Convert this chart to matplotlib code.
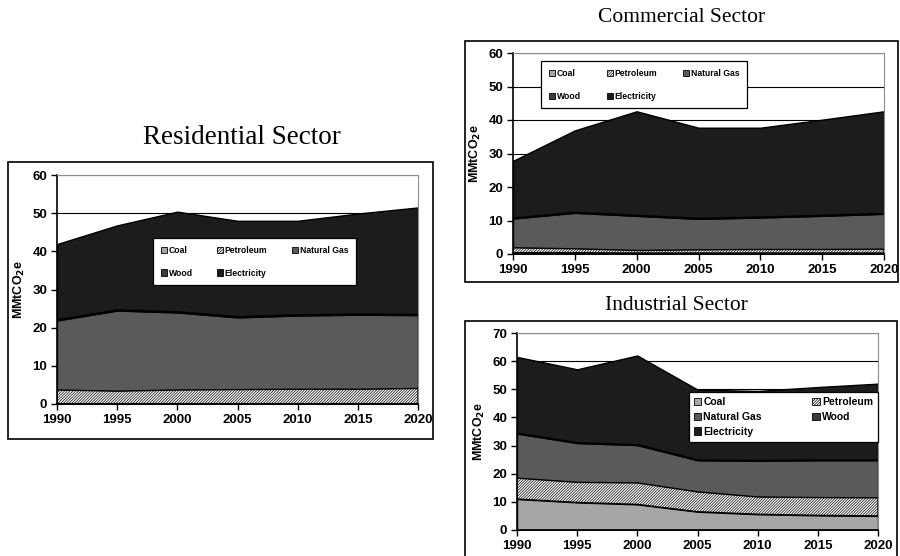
import matplotlib.pyplot as plt
from matplotlib.patches import Patch, Rectangle

years = [1990, 1995, 2000, 2005, 2010, 2015, 2020]
fuels = ['Coal', 'Petroleum', 'Natural Gas', 'Wood', 'Electricity']

# residential sector (MMtCO2e per fuel)
res_coal = [0.1, 0.1, 0.1, 0.1, 0.1, 0.1, 0.1]
res_petroleum = [3.7, 3.4, 3.7, 3.8, 3.9, 3.9, 4.1]
res_natgas = [18.1, 21.0, 20.2, 18.8, 19.2, 19.4, 19.1]
res_wood = [0.3, 0.3, 0.3, 0.3, 0.3, 0.3, 0.3]
res_electricity = [19.7, 22.0, 26.1, 25.0, 24.5, 26.2, 27.9]

# commercial sector
com_coal = [0.4, 0.4, 0.3, 0.3, 0.3, 0.3, 0.3]
com_petroleum = [1.6, 1.3, 0.9, 1.1, 1.2, 1.2, 1.3]
com_natgas = [8.6, 10.6, 10.2, 9.1, 9.4, 9.9, 10.4]
com_wood = [0.3, 0.3, 0.3, 0.3, 0.3, 0.3, 0.3]
com_electricity = [16.9, 24.3, 30.9, 26.9, 26.5, 28.4, 30.3]

# industrial sector
ind_coal = [11.0, 9.8, 9.1, 6.5, 5.6, 5.2, 5.0]
ind_petroleum = [7.6, 7.3, 7.8, 7.2, 6.3, 6.5, 6.6]
ind_natgas = [15.7, 13.8, 13.3, 11.1, 12.7, 13.1, 13.2]
ind_wood = [0.3, 0.3, 0.3, 0.3, 0.3, 0.3, 0.3]
ind_electricity = [26.9, 25.9, 31.5, 24.8, 24.5, 25.7, 26.9]

colors = ['#a6a6a6', 'white', '#5a5a5a', '#3c3c3c', '#1c1c1c']
hatches = [None, '////////////', None, None, None]

plt.rcParams['font.family'] = ['Liberation Sans', 'DejaVu Sans']
plt.rcParams['mathtext.default'] = 'bf'
plt.rcParams['hatch.linewidth'] = 0.5

fig = plt.figure(figsize=(9, 5.56), dpi=100)
W, H = 900, 556


def px_rect(x0, y0, x1, y1):
    # pixel box (top-left origin) -> figure fraction rect
    return [x0 / W, 1 - y1 / H, (x1 - x0) / W, (y1 - y0) / H]


def frame(x0, y0, x1, y1):
    r = px_rect(x0, y0, x1, y1)
    fig.patches.append(Rectangle((r[0], r[1]), r[2], r[3], transform=fig.transFigure,
                                 fill=False, edgecolor='black', lw=1.2, zorder=0))


def sector(rect, series, ymax, title, title_xy, title_size, leg_anchor, leg_ncol,
           leg_order, leg_size, leg_spacing):
    ax = fig.add_axes(px_rect(*rect))
    base = [0.0] * len(years)
    for vals, c, h in zip(series, colors, hatches):
        top = [b + v for b, v in zip(base, vals)]
        ax.fill_between(years, base, top, facecolor=c, edgecolor='black', hatch=h,
                        lw=1.0, zorder=2)
        base = top
    ax.set_xlim(1990, 2020)
    ax.set_ylim(0, ymax)
    ax.set_xticks(years)
    ax.set_yticks(range(0, ymax + 1, 10))
    ax.yaxis.grid(True, color='black', lw=0.8)
    ax.set_axisbelow(True)
    for s in ['top', 'right']:
        ax.spines[s].set_color('#8c8c8c')
    ax.spines['left'].set_linewidth(1.2)
    ax.spines['bottom'].set_linewidth(1.2)
    ax.tick_params(axis='both', direction='out', length=4, width=1, labelsize=9.5, pad=3)
    for lab in ax.get_xticklabels() + ax.get_yticklabels():
        lab.set_fontweight('bold')
    ax.set_ylabel('MMtCO$_2$e', fontsize=9, fontweight='bold', labelpad=4)

    handles = [Patch(facecolor=colors[i], edgecolor='black', hatch=hatches[i], lw=0.6,
                     label=fuels[i]) for i in leg_order]
    leg = ax.legend(handles=handles, loc='upper left', bbox_to_anchor=leg_anchor,
                    mode='expand', ncol=leg_ncol, fancybox=False, framealpha=1,
                    edgecolor='black', prop={'weight': 'bold', 'size': leg_size},
                    handlelength=0.7, handleheight=0.7, handletextpad=0.2,
                    columnspacing=1.0, borderaxespad=0, labelspacing=leg_spacing,
                    borderpad=0.9 if leg_ncol == 3 else 0.5)
    leg.get_frame().set_linewidth(0.9)
    leg.set_zorder(5)

    fig.text(title_xy[0] / W, 1 - title_xy[1] / H, title, ha='center', va='center',
             fontsize=title_size, family='Liberation Serif')
    return ax


frame(8, 162, 433, 439)
frame(465, 41, 898, 282)
frame(465, 321, 897, 560)

sector((57, 175, 418, 404),
       [res_coal, res_petroleum, res_natgas, res_wood, res_electricity], 60,
       'Residential Sector', (242, 138), 19.5,
       (0.266, 0.725, 0.562, 0.0), 3, [0, 3, 1, 4, 2], 6.2, 1.6)

sector((513, 53, 884, 254),
       [com_coal, com_petroleum, com_natgas, com_wood, com_electricity], 60,
       'Commercial Sector', (682, 18), 15.5,
       (0.0755, 0.96, 0.555, 0.0), 3, [0, 3, 1, 4, 2], 6.2, 1.6)

sector((517, 333, 878, 530),
       [ind_coal, ind_petroleum, ind_natgas, ind_wood, ind_electricity], 70,
       'Industrial Sector', (676, 305), 15.5,
       (0.476, 0.70, 0.524, 0.0), 2, [0, 2, 4, 1, 3], 7.5, 0.45)

fig.savefig('out.png', dpi=100)
